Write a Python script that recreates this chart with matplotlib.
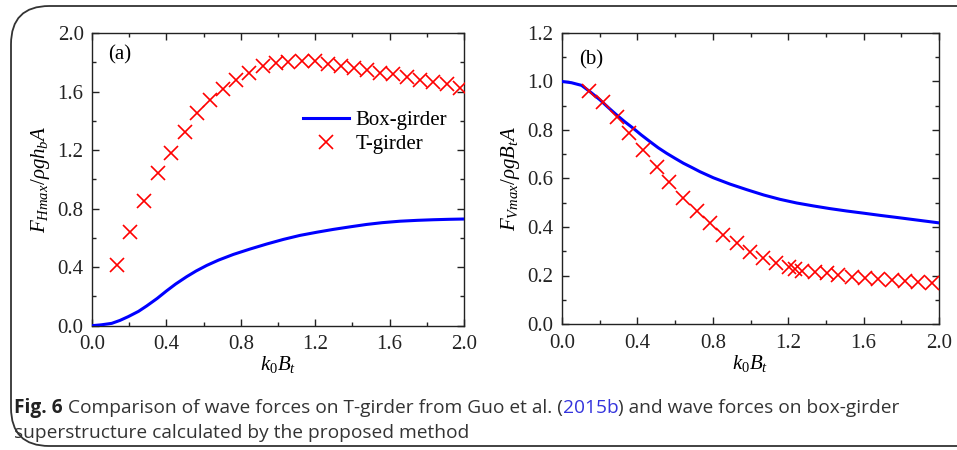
import matplotlib
matplotlib.use("Agg")
import matplotlib.pyplot as plt
from matplotlib.patches import FancyBboxPatch
from matplotlib.ticker import MultipleLocator, FormatStrFormatter
from matplotlib import font_manager

# ---------------- data ----------------
box_a_x = [0.0, 0.05, 0.106, 0.15, 0.195, 0.25, 0.294, 0.35, 0.401, 0.45, 0.509, 0.56, 0.617, 0.68, 0.76,
           0.85, 0.939, 1.03, 1.118, 1.21, 1.297, 1.39, 1.477, 1.56, 1.656, 1.75, 1.835, 1.92, 2.0]
box_a_y = [0.0, 0.006, 0.016, 0.036, 0.062, 0.098, 0.135, 0.186, 0.238, 0.285, 0.335, 0.374, 0.412, 0.448, 0.487,
           0.524, 0.558, 0.590, 0.617, 0.639, 0.658, 0.676, 0.692, 0.704, 0.714, 0.720, 0.724, 0.727, 0.729]

t_a_x = [0.134, 0.206, 0.280, 0.356, 0.423, 0.500, 0.566, 0.634, 0.703, 0.774, 0.846, 0.918, 0.988,
         1.055, 1.127, 1.199, 1.270, 1.339, 1.409, 1.477, 1.548, 1.620, 1.692, 1.763, 1.835, 1.907, 1.978]
t_a_y = [0.417, 0.638, 0.852, 1.045, 1.182, 1.326, 1.451, 1.542, 1.615, 1.679, 1.729, 1.775, 1.793,
         1.804, 1.811, 1.811, 1.788, 1.775, 1.759, 1.747, 1.729, 1.718, 1.701, 1.679, 1.667, 1.650, 1.626]

box_b_x = [0.0, 0.05, 0.104, 0.15, 0.202, 0.245, 0.290, 0.333, 0.378, 0.42, 0.467, 0.51, 0.555, 0.60, 0.644,
           0.69, 0.732, 0.803, 0.891, 0.98, 1.07, 1.157, 1.245, 1.333, 1.42, 1.51, 1.6, 1.687, 1.78, 1.87, 1.94, 2.0]
box_b_y = [1.0, 0.995, 0.984, 0.957, 0.924, 0.893, 0.862, 0.834, 0.807, 0.780, 0.752, 0.727, 0.704, 0.683, 0.663,
           0.645, 0.628, 0.603, 0.577, 0.554, 0.532, 0.514, 0.499, 0.487, 0.476, 0.466, 0.457, 0.448, 0.439, 0.430, 0.423, 0.417]

t_b_x = [0.145, 0.216, 0.290, 0.357, 0.431, 0.502, 0.570, 0.644, 0.715, 0.785, 0.856, 0.927, 0.997,
         1.065, 1.135, 1.206, 1.236, 1.275, 1.340, 1.405, 1.466, 1.537, 1.607, 1.678, 1.749, 1.820, 1.890, 1.961]
t_b_y = [0.961, 0.914, 0.855, 0.786, 0.718, 0.649, 0.585, 0.518, 0.465, 0.415, 0.367, 0.332, 0.298,
         0.273, 0.253, 0.234, 0.228, 0.219, 0.214, 0.209, 0.202, 0.194, 0.189, 0.185, 0.181, 0.178, 0.174, 0.170]

legend_labels = ["Box-girder", "T-girder"]
panel_tags = ["(a)", "(b)"]
xlabel = r"$k_{\mathit{0}}B_t$"
ylabels = [r"$F_{Hmax}/\rho g h_b A$", r"$F_{Vmax}/\rho g B_t A$"]
caption_parts = [("Fig. 6", "bold", "#222222"),
                 (" Comparison of wave forces on T-girder from Guo et al. (", "normal", "#333333"),
                 ("2015b", "normal", "#3333dd"),
                 (") and wave forces on box-girder", "normal", "#333333")]
caption_line2 = "superstructure calculated by the proposed method"

# ---------------- style ----------------
serif = "Liberation Serif"
plt.rcParams.update({
    "font.family": [serif, "DejaVu Serif"],
    "mathtext.fontset": "custom",
    "mathtext.rm": serif,
    "mathtext.it": serif + ":italic",
    "mathtext.bf": serif + ":bold",
    "font.size": 13,
})

def pick(fams):
    for f in fams:
        try:
            font_manager.findfont(font_manager.FontProperties(family=f), fallback_to_default=False)
            return f
        except Exception:
            pass
    return "DejaVu Sans"

cap_font = pick(["Liberation Sans Narrow", "Open Sans", "Noto Sans"])

W, H = 957, 450
fig = plt.figure(figsize=(W / 100, H / 100), dpi=100)

# rounded frame
frame = FancyBboxPatch((11 / W, 4 / H), 1.2, (H - 10) / H,
                       boxstyle="round,pad=0,rounding_size=0.04",
                       transform=fig.transFigure, fill=False,
                       edgecolor="#333333", linewidth=1.3, mutation_aspect=W / H)
fig.patches.append(frame)

ax_a = fig.add_axes([92 / W, 1 - 325.7 / H, (464 - 92) / W, (325.7 - 33) / H])
ax_b = fig.add_axes([562 / W, 1 - 324 / H, (939 - 562) / W, (324 - 33) / H])

for ax, bx, by, tx, ty, ylim, ymaj, ymin in [
        (ax_a, box_a_x, box_a_y, t_a_x, t_a_y, 2.0, 0.4, 0.2),
        (ax_b, box_b_x, box_b_y, t_b_x, t_b_y, 1.2, 0.2, 0.1)]:
    ax.plot(bx, by, color="#0000ff", lw=2.2, label=legend_labels[0], zorder=3)
    ax.plot(tx, ty, ls="none", marker="x", ms=10, mew=1.2, color="#ff0000",
            label=legend_labels[1], zorder=4)
    ax.set_xlim(0, 2.0)
    ax.set_ylim(0, ylim)
    ax.xaxis.set_major_locator(MultipleLocator(0.4))
    ax.xaxis.set_minor_locator(MultipleLocator(0.2))
    ax.yaxis.set_major_locator(MultipleLocator(ymaj))
    ax.yaxis.set_minor_locator(MultipleLocator(ymin))
    ax.xaxis.set_major_formatter(FormatStrFormatter("%.1f"))
    ax.yaxis.set_major_formatter(FormatStrFormatter("%.1f"))
    ax.tick_params(which="both", direction="in", top=True, right=True, width=1.0,
                   labelsize=15, colors="#222222")
    ax.tick_params(which="major", length=5)
    ax.tick_params(axis="y", which="major", pad=6)
    ax.tick_params(axis="x", which="major", pad=7)
    ax.tick_params(which="minor", length=3)
    for s in ax.spines.values():
        s.set_linewidth(1.0)
        s.set_color("#222222")
    ax.set_xlabel(xlabel, fontsize=15, labelpad=0)

ax_a.set_ylabel(ylabels[0], fontsize=15, labelpad=4)
ax_b.set_ylabel(ylabels[1], fontsize=15, labelpad=4)

ax_a.text(0.043, 0.925, panel_tags[0], transform=ax_a.transAxes, fontsize=15, va="center")
ax_b.text(0.045, 0.907, panel_tags[1], transform=ax_b.transAxes, fontsize=15, va="center")

ax_a.legend(loc="upper left", bbox_to_anchor=(0.54, 0.77), frameon=False, fontsize=15,
            handlelength=2.2, handletextpad=0.3, borderpad=0, labelspacing=0.2)

# caption
fig.canvas.draw()
renderer = fig.canvas.get_renderer()
x = 14
for txt, weight, col in caption_parts:
    t = fig.text(x / W, 1 - 413 / H, txt, fontsize=13.8, fontweight=weight, color=col,
                 family=[cap_font, "DejaVu Sans"], va="baseline", ha="left")
    bb = t.get_window_extent(renderer)
    x = bb.x1
fig.text(14 / W, 1 - 438 / H, caption_line2, fontsize=13.8, color="#333333",
         family=[cap_font, "DejaVu Sans"], va="baseline", ha="left")

fig.savefig("out.png", dpi=100)
